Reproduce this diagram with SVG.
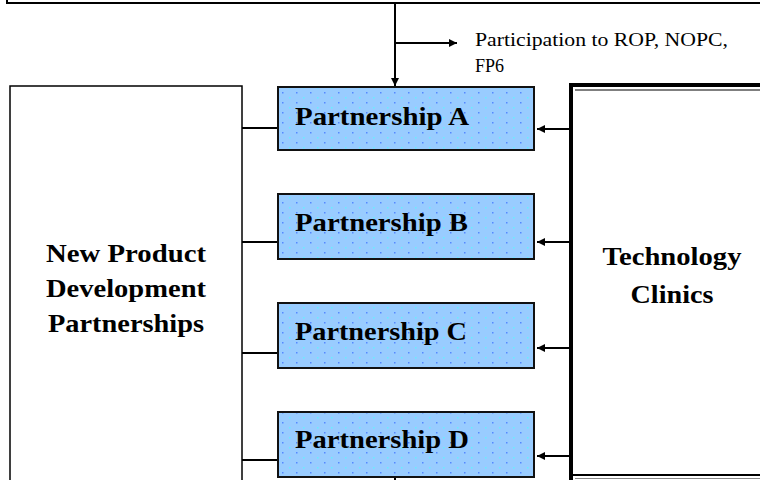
<svg xmlns="http://www.w3.org/2000/svg" width="760" height="480" viewBox="0 0 760 480">
<style>
.ln{stroke:#000;stroke-width:2;fill:none}
.pbox{fill:url(#dots);stroke:#111;stroke-width:2}
.big{font-family:"Liberation Serif","Times New Roman",serif;font-weight:bold;font-size:25px;fill:#000}
.plab{font-family:"Liberation Serif","Times New Roman",serif;font-weight:bold;font-size:26px;fill:#000}
.small{font-family:"Liberation Serif","Times New Roman",serif;font-size:18px;fill:#000}
</style>
<defs>
<pattern id="dots" width="14" height="10" patternUnits="userSpaceOnUse">
<rect width="14" height="10" fill="#99CCFF"/>
<rect x="2" y="2" width="1.5" height="1.5" fill="#5588FF"/>
<rect x="9" y="7" width="1.5" height="1.5" fill="#66EEFF"/>
</pattern>
<marker id="ah" viewBox="0 0 10 10" refX="10" refY="5" markerWidth="9" markerHeight="8" markerUnits="userSpaceOnUse" orient="auto">
<path d="M0,0 L10,5 L0,10 z" fill="#000"/>
</marker>
</defs>
<g id="top-box">
<path class="ln" d="M7,0 V3 H762"/>
</g>
<g id="connectors">
<path class="ln" d="M395,3 V86" marker-end="url(#ah)"/>
<path class="ln" d="M395,43 H457" marker-end="url(#ah)"/>
<path class="ln" d="M395,477 V482"/>
<path class="ln" d="M242,128 H278"/>
<path class="ln" d="M242,242 H278"/>
<path class="ln" d="M242,353 H278"/>
<path class="ln" d="M242,460 H278"/>
<path class="ln" d="M571,129 H537" marker-end="url(#ah)"/>
<path class="ln" d="M571,242 H537" marker-end="url(#ah)"/>
<path class="ln" d="M571,348 H537" marker-end="url(#ah)"/>
<path class="ln" d="M571,456 H537" marker-end="url(#ah)"/>
</g>
<g id="label-participation">
<text class="small" x="475" y="46" textLength="253" lengthAdjust="spacingAndGlyphs">Participation to ROP, NOPC,</text>
<text class="small" x="475" y="72">FP6</text>
</g>
<g id="npd">
<rect x="10" y="86" width="232" height="400" fill="#fff" stroke="#000" stroke-width="1.5"/>
<text class="big" x="126" y="262" text-anchor="middle" textLength="160" lengthAdjust="spacingAndGlyphs">New Product</text>
<text class="big" x="126" y="297" text-anchor="middle" textLength="160" lengthAdjust="spacingAndGlyphs">Development</text>
<text class="big" x="126" y="332" text-anchor="middle" textLength="156" lengthAdjust="spacingAndGlyphs">Partnerships</text>
</g>
<g id="partnership-a">
<rect class="pbox" x="278" y="87" width="256" height="63"/>
<text class="plab" x="295" y="125" textLength="174" lengthAdjust="spacingAndGlyphs">Partnership A</text>
</g>
<g id="partnership-b">
<rect class="pbox" x="278" y="194" width="256" height="65"/>
<text class="plab" x="295" y="231" textLength="173" lengthAdjust="spacingAndGlyphs">Partnership B</text>
</g>
<g id="partnership-c">
<rect class="pbox" x="278" y="303" width="256" height="65"/>
<text class="plab" x="295" y="340" textLength="172" lengthAdjust="spacingAndGlyphs">Partnership C</text>
</g>
<g id="partnership-d">
<rect class="pbox" x="278" y="412" width="256" height="65"/>
<text class="plab" x="295" y="448" textLength="174" lengthAdjust="spacingAndGlyphs">Partnership D</text>
</g>
<g id="tech-clinics">
<path d="M571,480 V85 H762" fill="none" stroke="#000" stroke-width="4"/>
<path d="M575,90 H762" fill="none" stroke="#000" stroke-width="1"/>
<path d="M573,475 H762" fill="none" stroke="#000" stroke-width="2"/>
<path d="M575,478.5 H762" fill="none" stroke="#888" stroke-width="1"/>
<text class="big" x="672" y="265" text-anchor="middle" textLength="139" lengthAdjust="spacingAndGlyphs">Technology</text>
<text class="big" x="672" y="303" text-anchor="middle" textLength="83" lengthAdjust="spacingAndGlyphs">Clinics</text>
</g>
</svg>
